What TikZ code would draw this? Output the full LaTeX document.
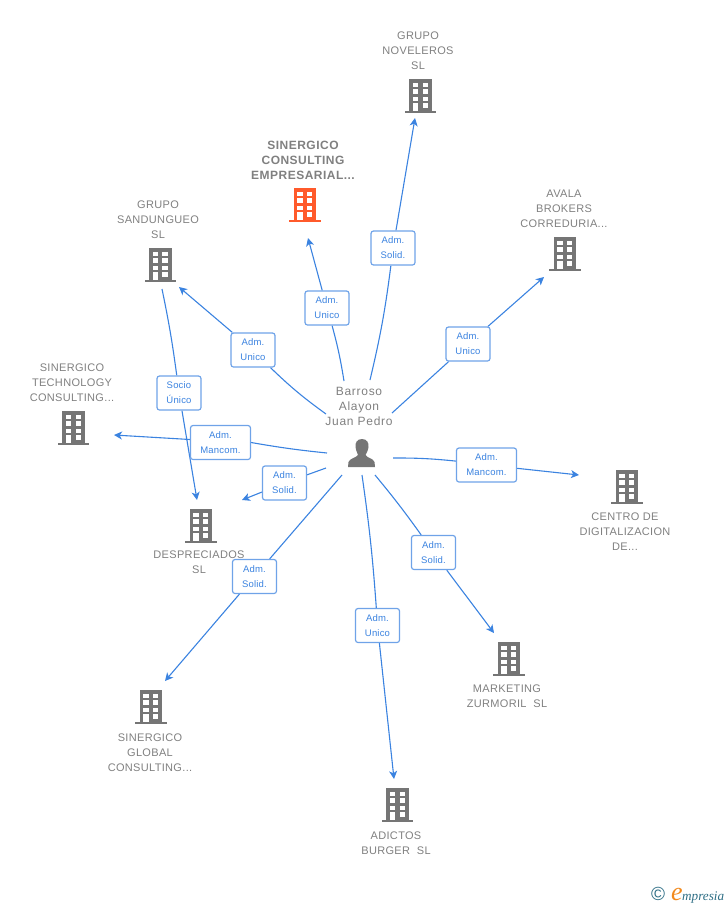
\documentclass[tikz,border=0pt]{standalone}
\usepackage{fontspec}
\setmainfont{Liberation Sans}
\newfontfamily\logofont{Liberation Serif}
\usetikzlibrary{arrows.meta,backgrounds,positioning}

\definecolor{linkblue}{HTML}{3B83E0}
\definecolor{boxblue}{HTML}{6FA3E8}
\definecolor{labelgray}{HTML}{808080}
\definecolor{iconOrange}{HTML}{FF5A2B}
\definecolor{iconGray}{HTML}{757575}
\definecolor{logoTeal}{HTML}{2F6F86}
\definecolor{logoOrange}{HTML}{F28A1E}

\tikzset{
  orgtext/.style={text=labelgray, align=center, font=\fontsize{11}{15}\selectfont\addfontfeature{LetterSpace=3}, inner sep=0pt},
  roletext/.style={draw=boxblue, line width=1.2pt, rounded corners=2.5pt, fill=white, text=linkblue,
    align=center, font=\fontsize{9.5}{15}\selectfont\addfontfeature{LetterSpace=2}, minimum height=34pt, inner sep=0pt},
  link/.style={draw=linkblue, line width=1.1pt},
  linkto/.style={link, -{Stealth[length=8pt,width=8pt,inset=2.2pt]}},
  bldg/.pic={
    \fill[pic actions] (-11.2,-17) rectangle (11.2,15);
    \fill[pic actions] (-15.7,14.5) rectangle (15.7,17.3);
    \foreach \wy in {-13.3,-6.7,0.7} {
      \fill[white] (-7.6,\wy) rectangle (-2.3,\wy+4.2);
      \fill[white] (2,\wy) rectangle (7.4,\wy+4.2);
    }
    \fill[white] (-7.6,7.3) rectangle (-2.3,14.5);
    \fill[white] (2,7.3) rectangle (7.4,11.7);
  }
}

\begin{document}
\begin{tikzpicture}[x=1pt, y=-1pt]
\useasboundingbox (0,0) rectangle (728,905);

% companies
\pic[fill=iconGray] at (420.5,96) {bldg};
\pic[fill=iconOrange] at (305,205) {bldg};
\pic[fill=iconGray] at (565,254) {bldg};
\pic[fill=iconGray] at (160.3,265) {bldg};
\pic[fill=iconGray] at (73.5,428) {bldg};
\pic[fill=iconGray] at (201,526) {bldg};
\pic[fill=iconGray] at (151,707) {bldg};
\pic[fill=iconGray] at (397.5,805) {bldg};
\pic[fill=iconGray] at (509,659) {bldg};
\pic[fill=iconGray] at (627,487) {bldg};

\node[orgtext] (noveleros) at (418,50.5) {GRUPO\\NOVELEROS\\SL};
\node[orgtext, font=\fontsize{12}{15}\selectfont\bfseries\addfontfeature{LetterSpace=4}] (consulting) at (303,160) {SINERGICO\\CONSULTING\\EMPRESARIAL...};
\node[orgtext] (avala) at (564,208.5) {AVALA\\BROKERS\\CORREDURIA...};
\node[orgtext] (sandungueo) at (158,219.5) {GRUPO\\SANDUNGUEO\\SL};
\node[orgtext] (technology) at (72,382.5) {SINERGICO\\TECHNOLOGY\\CONSULTING...};
\node[orgtext] (despreciados) at (199,562.5) {DESPRECIADOS\\SL};
\node[orgtext] (global) at (150,752.5) {SINERGICO\\GLOBAL\\CONSULTING...};
\node[orgtext] (adictos) at (396,843) {ADICTOS\\BURGER\ \ SL};
\node[orgtext] (marketing) at (507,696.5) {MARKETING\\ZURMORIL\ \ SL};
\node[orgtext] (centro) at (625,531.5) {CENTRO DE\\DIGITALIZACION\\DE...};

% person
\node[orgtext, font=\fontsize{12}{15}\selectfont\addfontfeature{LetterSpace=6}] (barroso) at (359,406) {Barroso\\Alayon\\Juan Pedro};
\fill[iconGray] (362,439) .. controls (357,439) and (355,443) .. (355.5,447)
  .. controls (356,451) and (357.5,453) .. (358,455)
  .. controls (356,458) and (350,458) .. (348.5,462) -- (348,467) -- (375,467) -- (374.5,462)
  .. controls (373,458) and (367,458) .. (365.5,455)
  .. controls (366.5,453) and (368,451) .. (368.5,447)
  .. controls (369,443) and (367,439) .. (362,439) -- cycle;

% free ends
\coordinate (startA) at (370,380);
\coordinate (endA) at (415,118);
\coordinate (startB) at (344,381);
\coordinate (endB) at (308,238);
\coordinate (startC) at (392,413);
\coordinate (endC) at (544,277);
\coordinate (startD) at (326,414);
\coordinate (endD) at (179,287);
\coordinate (startE) at (327,453);
\coordinate (endE) at (114,435);
\coordinate (startF) at (326,468);
\coordinate (endF) at (242,500);
\coordinate (startG) at (162,289);
\coordinate (endG) at (197,500);
\coordinate (startH) at (342,475);
\coordinate (endH) at (165,681);
\coordinate (startI) at (362,475);
\coordinate (endI) at (394,779);
\coordinate (startJ) at (375,475);
\coordinate (endJ) at (494,633);
\coordinate (startK) at (393,458);
\coordinate (endK) at (579,475);

% role boxes
\node[roletext, minimum width=44pt] (roleA) at (393,248) {Adm.\\Solid.};
\node[roletext, minimum width=44pt] (roleB) at (327,308) {Adm.\\Unico};
\node[roletext, minimum width=44pt] (roleC) at (468,344) {Adm.\\Unico};
\node[roletext, minimum width=44pt] (roleD) at (253,350) {Adm.\\Unico};
\node[roletext, minimum width=60pt] (roleE) at (220.5,442.5) {Adm.\\Mancom.};
\node[roletext, minimum width=44pt] (roleF) at (284.5,483) {Adm.\\Solid.};
\node[roletext, minimum width=44pt] (roleG) at (179,393) {Socio\\Único};
\node[roletext, minimum width=44pt] (roleH) at (254.5,576.5) {Adm.\\Solid.};
\node[roletext, minimum width=44pt] (roleI) at (377.5,625.5) {Adm.\\Unico};
\node[roletext, minimum width=44pt] (roleJ) at (433.5,552.5) {Adm.\\Solid.};
\node[roletext, minimum width=60pt] (roleK) at (486.5,465) {Adm.\\Mancom.};

% connectors
\begin{scope}[on background layer]
\draw[link] (startA) to[bend right=3] (roleA);
\draw[linkto] (roleA) -- (endA);
\draw[link] (startB) to[bend right=3] (roleB);
\draw[linkto] (roleB) -- (endB);
\draw[link] (startC) -- (roleC);
\draw[linkto] (roleC) -- (endC);
\draw[link] (startD) to[bend left=4] (roleD);
\draw[linkto] (roleD) -- (endD);
\draw[link] (startE) to[bend left=2] (roleE.east);
\draw[linkto] ([yshift=3pt]roleE.west) -- (endE);
\draw[link] (startF) -- (roleF);
\draw[linkto] (roleF) -- (endF);
\draw[link] (startG) to[bend left=2] (roleG);
\draw[linkto] (roleG) -- (endG);
\draw[link] (startH) -- (roleH);
\draw[linkto] (roleH) -- (endH);
\draw[link] (startI) to[bend left=2] (roleI);
\draw[linkto] (roleI) -- (endI);
\draw[link] (startJ) to[bend left=2] (roleJ);
\draw[linkto] (roleJ) -- (endJ);
\draw[link] (startK) to[bend left=3] (roleK);
\draw[linkto] (roleK) -- (endK);
\end{scope}

% logo
\node[inner sep=0pt, text=logoTeal, font=\fontsize{19}{19}\selectfont] (logoC) at (658,894) {©};
\node[inner sep=0pt, text=logoOrange, font=\fontsize{26}{26}\logofont\itshape, anchor=base] (logoE) at (677,900) {e};
\node[inner sep=0pt, text=logoTeal, font=\fontsize{13.2}{14}\logofont\itshape, anchor=base west] (logoT) at (682,900) {mpresia};
\end{tikzpicture}
\end{document}
